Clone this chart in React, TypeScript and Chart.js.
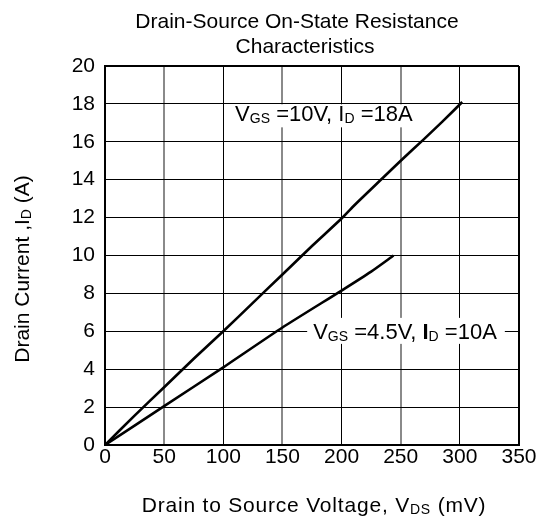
import React, { useEffect, useRef } from "react";
import { Chart, registerables } from "chart.js";

Chart.register(...registerables);

// Series: VGS = 10V, ID = 18A
const vds10: number[] = [0, 25, 50, 75, 100, 125, 150, 175, 200, 210, 235, 250, 269, 285, 302];
const id10: number[] = [0, 1.55, 3.05, 4.55, 6.0, 7.5, 9.0, 10.5, 11.95, 12.6, 14.1, 15.0, 16.1, 17.05, 18.1];

// Series: VGS = 4.5V, ID = 10A
const vds45: number[] = [0, 50, 100, 150, 200, 225, 244];
const id45: number[] = [0, 2.05, 4.1, 6.2, 8.15, 9.15, 10.0];

const xTicks: number[] = [0, 50, 100, 150, 200, 250, 300, 350];
const yTicks: number[] = [0, 2, 4, 6, 8, 10, 12, 14, 16, 18, 20];

const titleLines: string[] = ["Drain-Source On-State Resistance", "Characteristics"];

const FONT = '"Liberation Sans", Arial, Helvetica, sans-serif';

type Part = { t: string; sub?: boolean; bold?: boolean };

function drawRich(ctx: CanvasRenderingContext2D, parts: Part[], x: number, y: number, size: number, subSize: number, spacing = 0) {
  let cx = x;
  ctx.textBaseline = "alphabetic";
  ctx.textAlign = "left";
  (ctx as any).letterSpacing = spacing + "px";
  for (const p of parts) {
    const s = p.sub ? subSize : size;
    ctx.font = `${p.bold ? "bold " : ""}${s}px ${FONT}`;
    ctx.fillText(p.t, cx, p.sub ? y + 2 : y);
    cx += ctx.measureText(p.t).width;
  }
  (ctx as any).letterSpacing = "0px";
  return cx - x;
}

function measureRich(ctx: CanvasRenderingContext2D, parts: Part[], size: number, subSize: number, spacing = 0) {
  let w = 0;
  (ctx as any).letterSpacing = spacing + "px";
  for (const p of parts) {
    const s = p.sub ? subSize : size;
    ctx.font = `${p.bold ? "bold " : ""}${s}px ${FONT}`;
    w += ctx.measureText(p.t).width;
  }
  (ctx as any).letterSpacing = "0px";
  return w;
}

const label10: Part[] = [{ t: "V" }, { t: "GS", sub: true }, { t: " =10V, I" }, { t: "D", sub: true }, { t: " =18A" }];
const label45: Part[] = [{ t: "V" }, { t: "GS", sub: true }, { t: " =4.5V, " }, { t: "I", bold: true }, { t: "D", sub: true }, { t: " =10A" }];
const xTitle: Part[] = [{ t: "Drain to Source Voltage, V" }, { t: "DS", sub: true }, { t: " (mV)" }];
const yTitle: Part[] = [{ t: "Drain Current ,I" }, { t: "D", sub: true }, { t: " (A)" }];

const textPlugin = {
  id: "textPlugin",
  beforeDatasetsDraw(chart: any) {
    const ctx: CanvasRenderingContext2D = chart.ctx;
    const xs = chart.scales.x;
    const ys = chart.scales.y;
    ctx.save();
    // label 1
    {
      const x = xs.getPixelForValue(110);
      const y = ys.getPixelForValue(17.08);
      const w = measureRich(ctx, label10, 22, 14);
      ctx.fillStyle = "#ffffff";
      ctx.fillRect(x - 8, y - 17, w + 14, 23);
      ctx.fillStyle = "#000000";
      drawRich(ctx, label10, x, y, 22, 14);
    }
    // label 2
    {
      const x = xs.getPixelForValue(176);
      const y = ys.getPixelForValue(5.6);
      const w = measureRich(ctx, label45, 22, 14);
      ctx.fillStyle = "#ffffff";
      ctx.fillRect(x - 6, y - 21, w + 14, 26);
      ctx.fillStyle = "#000000";
      drawRich(ctx, label45, x, y, 22, 14);
    }
    ctx.restore();
  },
  afterDraw(chart: any) {
    const ctx: CanvasRenderingContext2D = chart.ctx;
    ctx.save();
    ctx.fillStyle = "#000000";
    // title
    ctx.font = `21px ${FONT}`;
    ctx.textAlign = "center";
    ctx.textBaseline = "alphabetic";
    ctx.fillText(titleLines[0], 297, 28);
    ctx.fillText(titleLines[1], 305, 53);
    // x title
    const wx = measureRich(ctx, xTitle, 21, 14, 0.8);
    drawRich(ctx, xTitle, 314 - wx / 2, 512, 21, 14, 0.8);
    // y title
    const wy = measureRich(ctx, yTitle, 21, 14);
    ctx.translate(29, 269);
    ctx.rotate(-Math.PI / 2);
    drawRich(ctx, yTitle, -wy / 2, 0, 21, 14);
    ctx.restore();
  },
};

export default function App() {
  const ref = useRef<HTMLCanvasElement | null>(null);
  useEffect(() => {
    if (!ref.current) return;
    const chart = new Chart(ref.current, {
      type: "line",
      data: {
        datasets: [
          {
            label: "VGS=10V",
            data: vds10.map((v, i) => ({ x: v, y: id10[i] })),
            borderColor: "#000000",
            borderWidth: 2.6,
            pointRadius: 0,
            tension: 0.2,
            fill: false,
          },
          {
            label: "VGS=4.5V",
            data: vds45.map((v, i) => ({ x: v, y: id45[i] })),
            borderColor: "#000000",
            borderWidth: 2.6,
            pointRadius: 0,
            tension: 0.2,
            fill: false,
          },
        ],
      },
      options: {
        animation: false,
        responsive: false,
        devicePixelRatio: 1,
        layout: { padding: { top: 66, right: 28, left: 0, bottom: 0 } },
        plugins: { legend: { display: false }, tooltip: { enabled: false }, title: { display: false } },
        scales: {
          x: {
            type: "linear",
            min: 0,
            max: 350,
            afterFit: (s: any) => {
              s.height = 76;
            },
            afterBuildTicks: (s: any) => {
              s.ticks = xTicks.map((v) => ({ value: v }));
            },
            ticks: {
              color: "#000000",
              font: { size: 21, family: FONT },
              padding: 0,
              maxRotation: 0,
              autoSkip: false,
            },
            grid: {
              drawTicks: false,
              color: (c: any) => {
                const v = c.tick ? c.tick.value : 0;
                if (v === 350 || v % 100 === 0) return "#000000";
                return "#8a8a8a";
              },
              lineWidth: (c: any) => {
                const v = c.tick ? c.tick.value : 0;
                if (v === 350) return 2;
                if (v % 100 === 0) return 1;
                return 2;
              },
            },
            border: { color: "#000000", width: 2 },
          },
          y: {
            type: "linear",
            min: 0,
            max: 20,
            afterFit: (s: any) => {
              s.width = 105;
            },
            afterBuildTicks: (s: any) => {
              s.ticks = yTicks.map((v) => ({ value: v }));
            },
            ticks: {
              color: "#000000",
              font: { size: 21, family: FONT },
              padding: 10,
              autoSkip: false,
            },
            grid: {
              drawTicks: false,
              color: "#000000",
              lineWidth: (c: any) => (c.tick && c.tick.value === 20 ? 2 : 1),
            },
            border: { color: "#000000", width: 2 },
          },
        },
      },
      plugins: [textPlugin],
    });
    return () => chart.destroy();
  }, []);
  return (
    <div style={{ position: "fixed", left: 0, top: 0, width: 547, height: 521, background: "#ffffff" }}>
      <canvas ref={ref} width={547} height={521} style={{ display: "block", width: 547, height: 521 }} />
    </div>
  );
}
